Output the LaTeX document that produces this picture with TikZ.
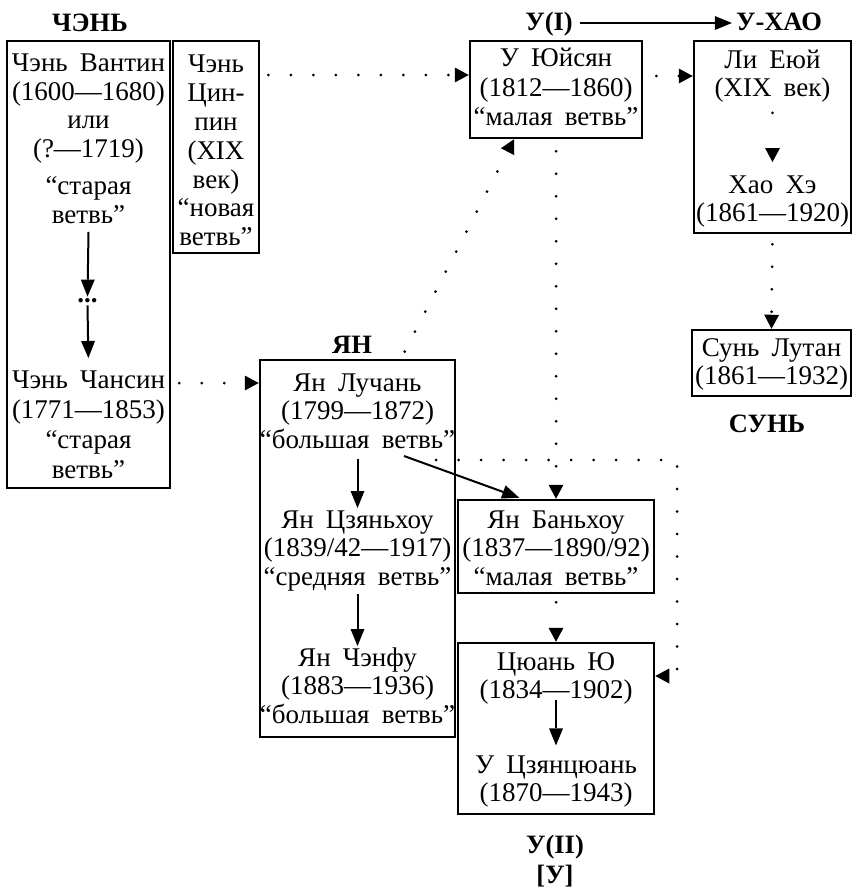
\documentclass[tikz,border=0pt]{standalone}
\usepackage{fontspec}
\setmainfont{Liberation Serif}[WordSpace=1.8]
\usetikzlibrary{arrows.meta}
\tikzset{
  box/.style={draw, line width=2.5pt, inner sep=0pt},
  txt/.style={align=center, inner sep=0pt, anchor=north, font=\fontsize{27}{#1}\selectfont},
  txt/.default=29,
  ttl/.style={inner sep=0pt, anchor=base, font=\fontsize{26.5}{29}\selectfont\bfseries},
  sarrow/.style={line width=2pt, -{Triangle[length=17pt,width=14pt,line width=0pt]}},
  dotl/.style={line width=3pt, line cap=round, dash pattern=on 0pt off 22.5pt, dash phase=14.5pt},
  darrow/.style={dotl, -{Triangle[length=14pt,width=15pt,line width=0pt]}},
}
\begin{document}
\begin{tikzpicture}[x=1pt,y=-1pt]
\useasboundingbox (0,0) rectangle (853,891);

% boxes
\node[box, minimum width=163pt, minimum height=447pt] (boxA) at (88.5,264.5) {};
\node[box, minimum width=86pt, minimum height=212pt] (boxB) at (216,147) {};
\node[box, minimum width=172pt, minimum height=97pt] (boxUY) at (556,89.5) {};
\node[box, minimum width=157pt, minimum height=192pt] (boxLH) at (772.5,137) {};
\node[box, minimum width=159pt, minimum height=66pt] (boxS) at (771.5,363) {};
\node[box, minimum width=195pt, minimum height=377pt] (boxY) at (357.5,548.5) {};
\node[box, minimum width=196pt, minimum height=93pt] (boxBH) at (556,546.5) {};
\node[box, minimum width=196pt, minimum height=171pt] (boxT) at (556,728.5) {};

% titles
\node[ttl] (tChen) at (90,32) {ЧЭНЬ};
\node[ttl] (tU1) at (549,31) {У(I)};
\node[ttl] (tUH) at (779,31) {У-ХАО};
\node[ttl] (tYan) at (352,353) {ЯН};
\node[ttl] (tSun) at (767,432) {СУНЬ};
\node[ttl, anchor=north, align=center, font=\fontsize{26.5}{30}\selectfont\bfseries] (tU2) at (555,832) {\strut У(II)\\{}[У]\strut};

% texts
\node[txt=28.5] (chenA) at (88.5,51.5) {\strut Чэнь Вантин\\(1600—1680)\\или\\(?—1719)\\[9pt]“старая\\ветвь”\strut};
\node[txt=28.8] (chenB) at (216,52.5) {\strut Чэнь\\Цин-\\пин\\(XIX\\век)\\“новая\\ветвь”\strut};
\node[inner sep=2pt, font=\fontsize{27}{29}\selectfont\bfseries] (dots) at (87.5,301) {...};
\node[txt=29.7] (chenC) at (88.5,368) {\strut Чэнь Чансин\\(1771—1853)\\“старая\\ветвь”\strut};
\node[txt=29.5] (uy) at (556,46) {\strut У Юйсян\\(1812—1860)\\“малая ветвь”\strut};
\node[txt=28] (liy) at (772.5,48.4) {\strut Ли Еюй\\(XIX век)\strut};
\node[txt=28] (hao) at (772.5,174) {\strut Хао Хэ\\(1861—1920)\strut};
\node[txt=28] (sun) at (771.5,336.4) {\strut Сунь Лутан\\(1861—1932)\strut};
\node[txt=28.5] (luchan) at (357.5,371) {\strut Ян Лучань\\(1799—1872)\\“большая ветвь”\strut};
\node[txt=28.5] (tszyan) at (357.5,508) {\strut Ян Цзяньхоу\\(1839/42—1917)\\“средняя ветвь”\strut};
\node[txt=28.5] (chenfu) at (357.5,646) {\strut Ян Чэнфу\\(1883—1936)\\“большая ветвь”\strut};
\node[txt=28.5] (banhou) at (556,508) {\strut Ян Баньхоу\\(1837—1890/92)\\“малая ветвь”\strut};
\node[txt=28] (tsy) at (556,650.4) {\strut Цюань Ю\\(1834—1902)\strut};
\node[txt=28] (uts) at (556,753.4) {\strut У Цзянцюань\\(1870—1943)\strut};

% helper coordinates
\coordinate (yT) at (0,23);
\coordinate (yA) at (0,383);
\coordinate (yB) at (0,75);
\coordinate (yC) at (0,76);
\coordinate (dS) at (401,0);
\coordinate (dE) at (514,0);
\coordinate (lbS) at (404,456);
\coordinate (lbE) at (522,0);
\coordinate (eS) at (428,460);
\coordinate (eC) at (677,0);
\coordinate (eY) at (0,676);

% solid arrows
\draw[sarrow] (chenA.south) -- (dots.north);
\draw[sarrow, shorten >=10pt] (dots.south) -- (chenC.north);
\draw[sarrow, shorten <=7pt, shorten >=4pt] (tU1.east |- yT) -- (tUH.west |- yT);
\draw[sarrow, shorten <=2pt] (luchan.south) -- (tszyan.north);
\draw[sarrow] (tszyan.south) -- (chenfu.north);
\draw[sarrow, shorten >=3pt] (lbS) -- (boxBH.north -| lbE);
\draw[sarrow, shorten <=-7pt, shorten >=8pt] (tsy.south) -- (uts.north);

% dotted arrows
\draw[darrow] (boxA.east |- yA) -- (boxY.west |- yA);
\draw[darrow] (boxB.east |- yB) -- (boxUY.west |- yB);
\draw[darrow, dash phase=9.5pt] (boxUY.east |- yC) -- (boxLH.west |- yC);
\draw[darrow] (boxY.north -| dS) -- (boxUY.south -| dE);
\draw[darrow, dash phase=10.5pt] (boxUY.south) -- (boxBH.north);
\draw[darrow] (eS) -- (eS -| eC) -- (eC |- eY) -- (boxT.east |- eY);
\draw[darrow, dash pattern=on 0pt off 40pt, dash phase=32pt] (boxBH.south) -- (boxT.north);
\draw[darrow, dash pattern=on 0pt off 40pt, dash phase=32pt, shorten >=12pt] (liy.south) -- (hao.north);
\draw[darrow, dash phase=12.5pt] (boxLH.south) -- (boxS.north);
\end{tikzpicture}
\end{document}
